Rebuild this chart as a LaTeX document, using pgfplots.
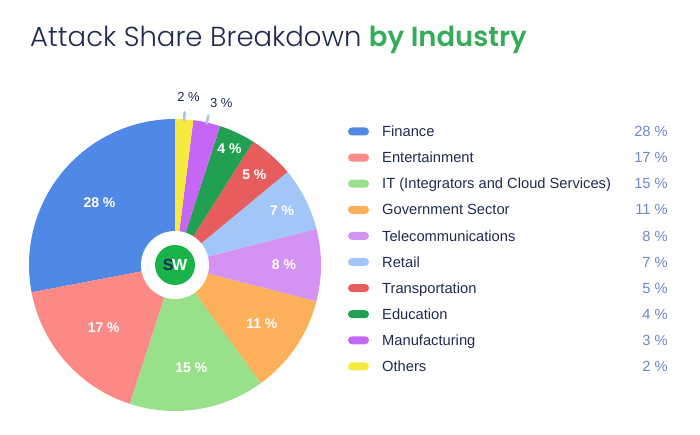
\documentclass[border=0pt]{standalone}
\usepackage{pgfplots}
\pgfplotsset{compat=1.18}
\usepackage{pgfplotstable}
\usepackage{fontspec}
\setmainfont{Liberation Sans}
\IfFontExistsTF{Poppins Light}{\newfontfamily\titlefont{Poppins Light}}{\newfontfamily\titlefont{Poppins}}
\IfFontExistsTF{Poppins SemiBold}{\newfontfamily\titleboldfont{Poppins SemiBold}}{\newfontfamily\titleboldfontraw{Poppins}\newcommand\titleboldfont{\titleboldfontraw\bfseries}}

\definecolor{navy}{HTML}{1E2B4F}
\definecolor{titlegreen}{HTML}{35AC5A}
\definecolor{valblue}{HTML}{6F88C2}
\definecolor{cLeader}{HTML}{A9C2EF}
\definecolor{cLogo}{HTML}{19B24B}
\definecolor{cLogoS}{HTML}{14304A}
\definecolor{cFin}{HTML}{5088E6}
\definecolor{cEnt}{HTML}{FB8A86}
\definecolor{cIT}{HTML}{98E08A}
\definecolor{cGov}{HTML}{FDB05A}
\definecolor{cTel}{HTML}{D492F2}
\definecolor{cRet}{HTML}{A1C6F7}
\definecolor{cTra}{HTML}{E75D5D}
\definecolor{cEdu}{HTML}{22A052}
\definecolor{cMan}{HTML}{C567F4}
\definecolor{cOth}{HTML}{F6EA3E}

\pgfplotstableread[col sep=comma]{
name,val,col,lr,ldx
Finance,28,cFin,98,0
Entertainment,17,cEnt,95,0
IT (Integrators and Cloud Services),15,cIT,104,0
Government Sector,11,cGov,105,0
Telecommunications,8,cTel,109,0
Retail,7,cRet,120,0
Transportation,5,cTra,120,0
Education,4,cEdu,128,0
Manufacturing,3,cMan,166,10
Others,2,cOth,168,3
}\piedata

\begin{document}
\begin{tikzpicture}[x=1pt,y=1pt]
\useasboundingbox (0,0) rectangle (700,435);
\begin{axis}[at={(0,0)}, anchor=south west, x=1pt, y=1pt,
  xmin=0, xmax=700, ymin=0, ymax=435, hide axis, clip=false]
\pgfplotsextra{%
  \pgfplotstablegetrowsof{\piedata}%
  \pgfmathtruncatemacro\prows{\pgfplotsretval-1}%
  \gdef\pcum{0}%
  \foreach \i in {0,...,\prows}{%
    \pgfplotstablegetelem{\i}{val}\of\piedata \let\pval\pgfplotsretval
    \pgfplotstablegetelem{\i}{col}\of\piedata \let\pcol\pgfplotsretval
    \pgfplotstablegetelem{\i}{lr}\of\piedata \let\plr\pgfplotsretval
    \pgfplotstablegetelem{\i}{ldx}\of\piedata \let\pdx\pgfplotsretval
    \pgfplotstablegetelem{\i}{name}\of\piedata \let\pname\pgfplotsretval
    \pgfmathsetmacro\pa{90+3.6*\pcum}%
    \pgfmathsetmacro\pb{90+3.6*(\pcum+\pval)}%
    \pgfmathsetmacro\pmid{(\pa+\pb)/2}%
    \fill[fill=\pcol] (axis cs:175,170) -- ++(\pa:146pt) arc[start angle=\pa, end angle=\pb, radius=146pt] -- cycle;
    \pgfmathsetmacro\px{175+\plr*cos(\pmid)+\pdx}%
    \pgfmathsetmacro\py{170+\plr*sin(\pmid)}%
    \ifdim\plr pt>150pt
      \draw[draw=cLeader, line width=2.5pt, line cap=round] (axis cs:175,170) ++(\pmid:145pt) -- ++(\pmid:8pt);
      \node[text=navy, font=\fontsize{13}{15}\selectfont, inner sep=0pt] at (axis cs:\px,\py) {\pval~\%};
    \else
      \node[text=white, font=\bfseries\fontsize{14}{16}\selectfont, inner sep=0pt] at (axis cs:\px,\py) {\pval~\%};
    \fi
    \pgfmathsetmacro\pnew{\pcum+\pval}\xdef\pcum{\pnew}%
    % legend row
    \pgfmathsetmacro\ly{435-131.5-26.1*\i}%
    \fill[fill=\pcol, rounded corners=4pt] (axis cs:348,\ly-4) rectangle (axis cs:369,\ly+4);
    \node[anchor=base west, text=navy, font=\fontsize{14.7}{17}\selectfont, inner sep=0pt] at (axis cs:382,\ly-5.2) {\pname};
    \node[anchor=base east, text=valblue, font=\fontsize{14.7}{17}\selectfont, inner sep=0pt] at (axis cs:668,\ly-5.2) {\pval~\%};
  }%
  % centre logo
  \fill[white] (axis cs:175,170) circle[radius=34pt];
  \fill[cLogo] (axis cs:175,170) circle[radius=20pt];
  \node[font=\bfseries\fontsize{16}{18}\selectfont, inner sep=0pt] at (axis cs:175,170) {\textcolor{cLogoS}{S}\kern-1.5pt\textcolor{white}{W}};
  % title
  \node[anchor=base west, inner sep=0pt] at (axis cs:30,388) {\fontsize{27.5}{30}\selectfont\titlefont\textcolor{navy}{Attack Share Breakdown} \titleboldfont\textcolor{titlegreen}{by Industry}};
}
\end{axis}
\end{tikzpicture}
\end{document}
